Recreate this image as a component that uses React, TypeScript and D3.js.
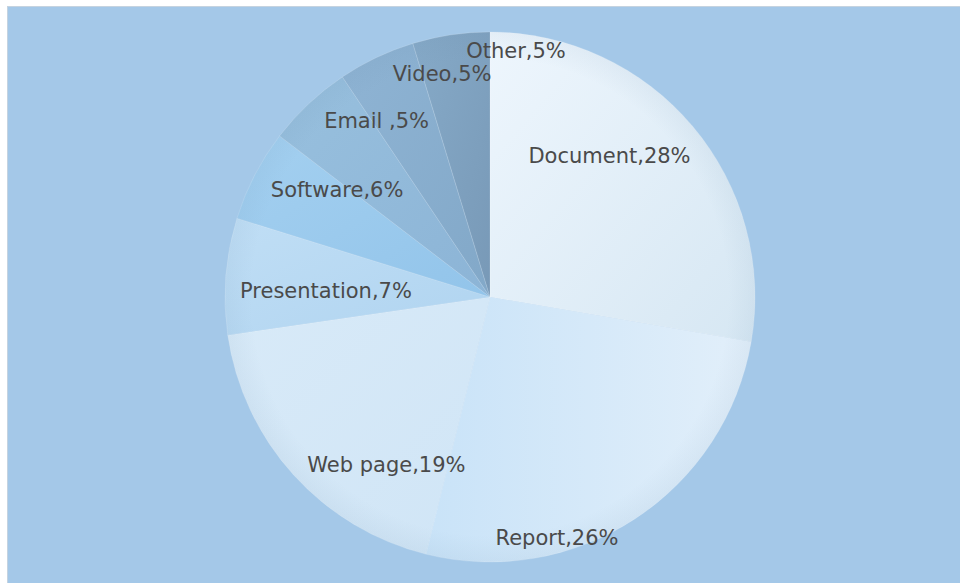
import React from "react";
import * as d3 from "d3";

const categories = ["Document", "Report", "Web page", "Presentation", "Software", "Email ", "Video", "Other"];
const values = [27.7, 26.2, 18.8, 7.1, 5.6, 5.2, 4.7, 4.7];
// slice gradient colours (start -> end)
const startColors = ["#eef6fd", "#c9e3f8", "#d8eaf8", "#c0def5", "#a4d0f0", "#98c0de", "#8fb4d4", "#86aac8"];
const endColors = ["#d6e7f3", "#e2effa", "#d0e5f6", "#b0d4f0", "#92c4ea", "#8cb4d6", "#82a8c8", "#7899b7"];
// gradient direction per slice
const gradX2 = [1, 1, 1, 1, 1, 1, 1, 1];
const gradY2 = [1, 0, 1, 1, 1, 1, 1, 1];
// label anchor offsets, as fractions of the radius, relative to the pie centre
const labelDx = [0.451, 0.253, -0.391, -0.619, -0.577, -0.428, -0.181, 0.098];
const labelDy = [-0.506, 0.936, 0.660, 0.004, -0.377, -0.638, -0.815, -0.902];

const W = 960;
const H = 583;
const cx = 490;
const cy = 297;
const R = 265;

export default function App() {
  const total = d3.sum(values);
  const pie = d3.pie<number>().sort(null).value((d) => d)(values);
  const arc = d3.arc<d3.PieArcDatum<number>>().innerRadius(0).outerRadius(R);

  return (
    <svg
      width={W}
      height={H}
      style={{ position: "absolute", left: 0, top: 0, display: "block" }}
    >
      <defs>
        {values.map((_, i) => (
          <linearGradient key={i} id={`g${i}`} x1="0" y1="0" x2={gradX2[i]} y2={gradY2[i]}>
            <stop offset="0%" stopColor={startColors[i]} />
            <stop offset="100%" stopColor={endColors[i]} />
          </linearGradient>
        ))}
        <radialGradient id="rim" cx={0} cy={0} r={R} gradientUnits="userSpaceOnUse">
          <stop offset="0.9" stopColor="#5a7f9f" stopOpacity={0} />
          <stop offset="1" stopColor="#5a7f9f" stopOpacity={0.07} />
        </radialGradient>
      </defs>
      <rect x={0} y={0} width={W} height={H} fill="#ffffff" />
      <rect x={7} y={6} width={W - 7} height={H - 6} fill="#a4c8e8" />
      <line x1={7.5} y1={6} x2={7.5} y2={H} stroke="#c5d3e0" strokeWidth={1} />
      <line x1={7} y1={6.5} x2={W} y2={6.5} stroke="#c5d3e0" strokeWidth={1} />
      <g transform={`translate(${cx},${cy})`}>
        {pie.map((d, i) => (
          <path
            key={i}
            d={arc(d) || ""}
            fill={`url(#g${i})`}
            stroke="#ffffff"
            strokeOpacity={0.25}
            strokeWidth={0.6}
          />
        ))}
        <circle r={R} fill="url(#rim)" />
        {pie.map((d, i) => (
          <text
            key={`t${i}`}
            x={labelDx[i] * R}
            y={labelDy[i] * R}
            textAnchor="middle"
            fontFamily="'DejaVu Sans', Verdana, sans-serif"
            fontSize={21}
            fill="#4a4a4a"
          >
            {`${categories[i]},${Math.round((d.data / total) * 100)}%`}
          </text>
        ))}
      </g>
    </svg>
  );
}
